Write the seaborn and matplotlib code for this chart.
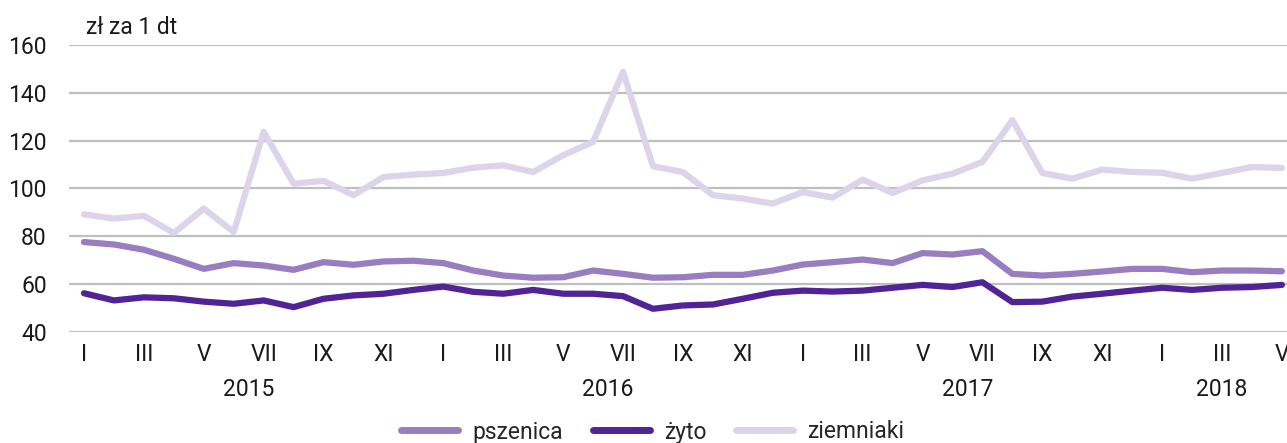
import numpy as np
import pandas as pd
import matplotlib
matplotlib.use("Agg")
import matplotlib.pyplot as plt
import matplotlib.transforms as mtransforms
import seaborn as sns

# ---- data (monthly prices, Jan 2015 - May 2018) ----
pszenica = [77.6, 76.6, 74.4, 70.6, 66.4, 68.8, 67.8, 66.0, 69.2, 68.1, 69.5, 69.8,
            68.8, 65.7, 63.6, 62.7, 62.9, 65.7, 64.3, 62.7, 62.9, 63.9, 63.9, 65.7,
            68.2, 69.2, 70.3, 68.8, 73.0, 72.4, 73.8, 64.3, 63.6, 64.3, 65.3, 66.4,
            66.4, 65.0, 65.7, 65.7, 65.4]
zyto = [56.2, 53.2, 54.5, 54.1, 52.7, 51.8, 53.2, 50.4, 53.9, 55.3, 56.0, 57.6,
        59.0, 56.8, 56.0, 57.6, 56.0, 56.0, 55.0, 49.7, 51.1, 51.5, 53.9, 56.4,
        57.3, 56.9, 57.3, 58.5, 59.7, 58.8, 60.8, 52.5, 52.7, 54.8, 56.0, 57.3,
        58.5, 57.6, 58.5, 58.8, 59.7]
ziemniaki = [89.2, 87.4, 88.6, 81.4, 91.6, 81.8, 123.7, 102.0, 103.2, 97.2, 104.8, 105.8,
             106.5, 108.7, 109.7, 106.9, 113.9, 119.5, 148.8, 109.3, 106.9, 97.2, 95.8, 93.7,
             98.5, 96.2, 103.7, 98.1, 103.4, 106.2, 111.1, 128.6, 106.5, 104.1, 107.9, 106.9,
             106.6, 104.1, 106.5, 109.0, 108.6]
series_names = ["pszenica", "żyto", "ziemniaki"]
month_labels = ["I", "II", "III", "IV", "V", "VI", "VII", "VIII", "IX", "X", "XI", "XII"]
years = ["2015", "2016", "2017", "2018"]
months_per_year = [12, 12, 12, 5]
y_ticks = [40, 60, 80, 100, 120, 140, 160]
unit_label = "zł za 1 dt"

colors = {"pszenica": "#997DC1", "żyto": "#512397", "ziemniaki": "#DDD3EA"}

# ---- build long-form table ----
n = len(pszenica)
idx = np.arange(n)
df = pd.concat([
    pd.DataFrame({"t": idx, "value": vals, "series": name})
    for name, vals in zip(series_names, [pszenica, zyto, ziemniaki])
], ignore_index=True)

sns.set_theme(style="white")
plt.rcParams["font.family"] = ["Roboto", "DejaVu Sans"]

FS = 16.5
W, H = 1287, 443
fig = plt.figure(figsize=(W / 100, H / 100), dpi=100)
ax = fig.add_axes([69 / W, 1 - 332 / H, 1 - 69 / W, (332 - 45) / H])

sns.lineplot(data=df, x="t", y="value", hue="series", hue_order=series_names,
             palette=colors, linewidth=4.5, ax=ax, legend=True,
             solid_capstyle="round", solid_joinstyle="round")

ax.set_ylim(40, 160)
ax.set_xlim(-0.5, 40.17)
ax.set_yticks(y_ticks)
ax.yaxis.grid(True, color="#BFBFBF", linewidth=1.6)
ax.xaxis.grid(False)
ax.set_axisbelow(True)
for s in ax.spines.values():
    s.set_visible(False)
ax.tick_params(axis="y", length=0, pad=16, labelsize=FS, labelcolor="#1a1a1a")
ax.tick_params(axis="x", length=0, pad=8, labelsize=FS, labelcolor="#1a1a1a")
ax.set_xlabel("")
ax.set_ylabel("")

# month ticks every two months
tick_pos = idx[::2]
all_months = [month_labels[i % 12] for i in range(n)]
ax.set_xticks(tick_pos)
ax.set_xticklabels([all_months[i] for i in tick_pos])

# year labels centred under each year's months
trans = mtransforms.blended_transform_factory(ax.transData, fig.transFigure)
start = 0
for yr, cnt in zip(years, months_per_year):
    centre = start + (cnt - 1) / 2
    ax.text(centre, 1 - 389 / H, yr, transform=trans, ha="center", va="center",
            fontsize=FS, color="#1a1a1a")
    start += cnt

fig.text(86 / W, 1 - 27 / H, unit_label, ha="left", va="center",
         fontsize=FS, color="#1a1a1a")

# legend at the bottom
handles, labels = ax.get_legend_handles_labels()
ax.get_legend().remove()
leg = fig.legend(handles, labels, loc="center", bbox_to_anchor=(0.507, 1 - 432 / H),
                 ncol=3, frameon=False, fontsize=FS, handlelength=2.5,
                 handletextpad=0.6, columnspacing=1.3)
for line in leg.get_lines():
    line.set_linewidth(5)
    line.set_solid_capstyle("round")

fig.savefig("out.png", dpi=100)
